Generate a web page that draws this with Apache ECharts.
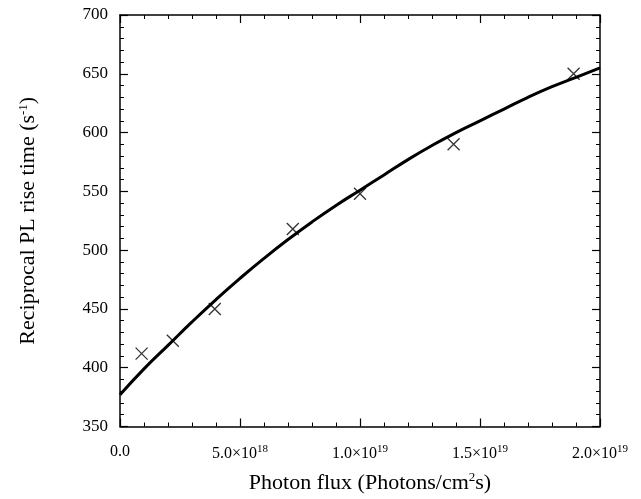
<!DOCTYPE html>
<html>
<head>
<meta charset="utf-8">
<script src="https://cdn.jsdelivr.net/npm/echarts@6/dist/echarts.min.js"></script>
<style>
  html, body { margin: 0; padding: 0; background: #fff; }
  #chart { width: 641px; height: 499px; }
</style>
</head>
<body>
<div id="chart"></div>
<script>
// measured points (photon flux in photons/cm^2 s, reciprocal rise time in 1/s)
const fluxPoints = [0.9e18, 2.2e18, 3.95e18, 7.2e18, 1.0e19, 1.39e19, 1.89e19];
const ratePoints = [412, 423, 450, 518, 548, 590, 650];

// fitted curve
const fitFlux = [0, 1e18, 2e18, 3e18, 4e18, 5e18, 6e18, 7e18, 8e18, 9e18, 1e19,
  1.1e19, 1.2e19, 1.3e19, 1.4e19, 1.5e19, 1.6e19, 1.7e19, 1.8e19, 1.9e19, 2e19];
const fitRate = [377, 399, 419, 439, 458, 476, 493, 509, 524, 538, 551,
  564, 577, 589, 600, 610, 620, 630, 639, 647, 655];

const font = "Liberation Serif";

function fluxLabel(v) {
  if (v === 0) return "{m|0.0}";
  const e = Math.floor(Math.log10(v) + 1e-9);
  const m = (v / Math.pow(10, e)).toFixed(1);
  return `{m|${m}×10}{s|${e}}`;
}

function ticks() {
  return {
    axisLine: { show: true, onZero: false, lineStyle: { color: "#000", width: 1.5 } },
    axisTick: { show: true, inside: true, length: 8, lineStyle: { color: "#000", width: 1.2 } },
    minorTick: { show: true, splitNumber: 5, length: 4, lineStyle: { color: "#000", width: 1 } },
    splitLine: { show: false },
  };
}

function xAxis(extra) {
  return Object.assign({ type: "value", min: 0, max: 2e19, interval: 5e18 }, ticks(), extra);
}
function yAxis(extra) {
  return Object.assign({ type: "value", min: 350, max: 700, interval: 50 }, ticks(), extra);
}

function titleStyle(pad) {
  return {
    fontFamily: font, fontSize: 22, color: "#000", padding: pad,
    rich: { sup: { fontFamily: font, fontSize: 13, color: "#000", padding: [0, 0, 10, 0] } },
  };
}

const chart = echarts.init(document.getElementById("chart"));

chart.setOption({
  animation: false,
  backgroundColor: "#fff",
  grid: { left: 120, right: 41, top: 15, bottom: 71 },
  xAxis: [
    xAxis({
      position: "bottom",
      name: "Photon flux (Photons/cm{sup|2}s)",
      nameLocation: "middle",
      nameGap: 45,
      nameTextStyle: titleStyle([0, 0, 0, 20]),
      axisLabel: {
        margin: 17,
        formatter: fluxLabel,
        rich: {
          m: { fontFamily: font, fontSize: 16, color: "#000" },
          s: { fontFamily: font, fontSize: 11, color: "#000", padding: [0, 0, 9, 0] },
        },
      },
    }),
    xAxis({ position: "top", axisLabel: { show: false } }),
  ],
  yAxis: [
    yAxis({
      position: "left",
      name: "Reciprocal PL rise time (s{sup|-1})",
      nameLocation: "middle",
      nameGap: 80,
      nameTextStyle: titleStyle([0, 0, 0, 0]),
      axisLabel: { margin: 12, fontFamily: font, fontSize: 17, color: "#000" },
    }),
    yAxis({ position: "right", axisLabel: { show: false } }),
  ],
  series: [
    {
      type: "line",
      data: fitFlux.map((x, i) => [x, fitRate[i]]),
      smooth: true,
      showSymbol: false,
      lineStyle: { color: "#000", width: 3 },
      silent: true,
      z: 2,
    },
    {
      type: "scatter",
      data: fluxPoints.map((x, i) => [x, ratePoints[i]]),
      symbol: "path://M0,0L10,10M10,0L0,10",
      symbolSize: 12,
      itemStyle: { color: "none", borderColor: "#000", borderWidth: 1.3 },
      z: 3,
    },
  ],
});
</script>
</body>
</html>
